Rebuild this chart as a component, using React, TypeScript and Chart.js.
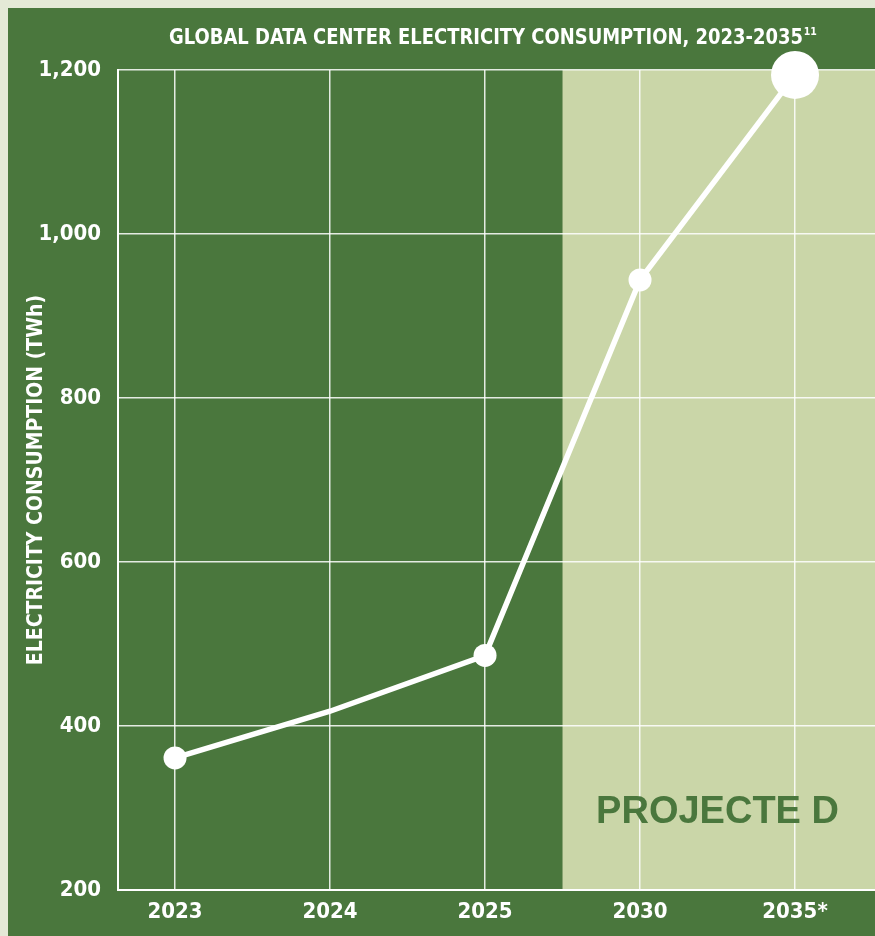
import React, { useEffect, useRef } from "react";
import { Chart, registerables } from "chart.js";

Chart.register(...registerables);

const years = ["2023", "2024", "2025", "2030", "2035*"];
const consumption = [361, 418, 486, 944, 1194];
const markerRadius = [11.5, 0, 11.5, 11.5, 24];
const yTicks = [200, 400, 600, 800, 1000, 1200];
const titleText = "GLOBAL DATA CENTER ELECTRICITY CONSUMPTION, 2023-2035";
const titleNote = "11";
const yTitle = "ELECTRICITY CONSUMPTION (TWh)";
const projectedLabel = "PROJECTE D";
const projectedStart = 2.5;

const DARK = "#4a773d";
const LIGHT = "#cad6a8";
const COND = "'Liberation Sans Narrow', 'DejaVu Sans Condensed', 'Arial Narrow', sans-serif";

const decor = {
  id: "decor",
  beforeDraw(chart: any) {
    const { ctx, chartArea, scales } = chart;
    ctx.save();
    ctx.fillStyle = DARK;
    ctx.fillRect(0, 0, chart.width, chart.height);
    const xs = scales.x.getPixelForValue(projectedStart);
    ctx.fillStyle = LIGHT;
    ctx.fillRect(xs, chartArea.top, chartArea.right - xs, chartArea.bottom - chartArea.top);
    // title (slightly condensed horizontally)
    const sx = 0.95;
    ctx.fillStyle = "#ffffff";
    ctx.textBaseline = "alphabetic";
    ctx.textAlign = "left";
    ctx.font = `bold 21px ${COND}`;
    const w1 = ctx.measureText(titleText).width * sx;
    ctx.font = `bold 11px ${COND}`;
    const w2 = ctx.measureText(titleNote).width * sx;
    const cx = (chartArea.left + chartArea.right) / 2 - 4;
    const x0 = cx - (w1 + w2) / 2;
    ctx.save();
    ctx.translate(x0, 0);
    ctx.scale(sx, 1);
    ctx.font = `bold 21px ${COND}`;
    ctx.fillText(titleText, 0, 36);
    ctx.font = `bold 11px ${COND}`;
    ctx.fillText(titleNote, w1 / sx + 1, 27);
    ctx.restore();
    ctx.restore();
  },
  beforeDatasetsDraw(chart: any) {
    const { ctx, chartArea, scales } = chart;
    ctx.save();
    ctx.fillStyle = DARK;
    ctx.font = "bold 38px 'Liberation Sans', Arial, sans-serif";
    ctx.textAlign = "center";
    ctx.textBaseline = "alphabetic";
    ctx.fillText(projectedLabel, scales.x.getPixelForValue(3.5), chartArea.bottom - 67);
    ctx.restore();
  },
};

export default function App() {
  const ref = useRef<HTMLCanvasElement | null>(null);
  useEffect(() => {
    document.body.style.margin = "0";
    document.body.style.overflow = "hidden";
    document.body.style.background = "#e4e9d6";
    if (!ref.current) return;
    const chart = new Chart(ref.current, {
      type: "line",
      data: {
        datasets: [
          {
            data: consumption.map((v, i) => ({ x: i, y: v })),
            borderColor: "#ffffff",
            borderWidth: 5.5,
            pointRadius: markerRadius,
            pointHoverRadius: markerRadius,
            pointBackgroundColor: "#ffffff",
            pointBorderWidth: 0,
            tension: 0,
            clip: false as any,
          },
        ],
      },
      options: {
        animation: false,
        responsive: false,
        maintainAspectRatio: false,
        layout: { autoPadding: false, padding: { top: 62, right: 0, bottom: 0, left: 0 } },
        plugins: { legend: { display: false }, tooltip: { enabled: false }, title: { display: false } },
        scales: {
          x: {
            type: "linear",
            min: -0.368,
            max: 4.516,
            afterBuildTicks: (s: any) => {
              s.ticks = years.map((_, i) => ({ value: i }));
            },
            afterFit: (s: any) => {
              s.height = 46;
              s.paddingLeft = 0;
              s.paddingRight = 0;
            },
            grid: { color: "rgba(255,255,255,0.85)", lineWidth: 1.5, drawTicks: false },
            border: { display: true, color: "#ffffff", width: 2 },
            ticks: {
              padding: 9,
              color: "#ffffff",
              font: { family: COND, size: 22, weight: "bold" },
              callback: (v: any) => years[Math.round(Number(v))] ?? "",
              maxRotation: 0,
              autoSkip: false,
            },
          },
          y: {
            type: "linear",
            min: 200,
            max: 1200,
            afterBuildTicks: (s: any) => {
              s.ticks = yTicks.map((v) => ({ value: v }));
            },
            afterFit: (s: any) => {
              s.width = 110;
              s.paddingTop = 0;
              s.paddingBottom = 0;
            },
            grid: { color: "rgba(255,255,255,0.85)", lineWidth: 1.5, drawTicks: false },
            border: { display: true, color: "#ffffff", width: 2 },
            ticks: {
              padding: 17,
              color: "#ffffff",
              font: { family: COND, size: 22, weight: "bold" },
              callback: (v: any) => Number(v).toLocaleString("en-US"),
            },
            title: {
              display: true,
              text: yTitle,
              color: "#ffffff",
              font: { family: COND, size: 21, weight: "bold" },
              padding: { top: 16, bottom: 0 },
            },
          },
        },
      } as any,
      plugins: [decor],
    });
    return () => chart.destroy();
  }, []);
  return (
    <div style={{ width: 867, height: 928, padding: "8px 0 0 8px" }}>
      <canvas ref={ref} width={867} height={928} style={{ display: "block", width: 867, height: 928 }} />
    </div>
  );
}
